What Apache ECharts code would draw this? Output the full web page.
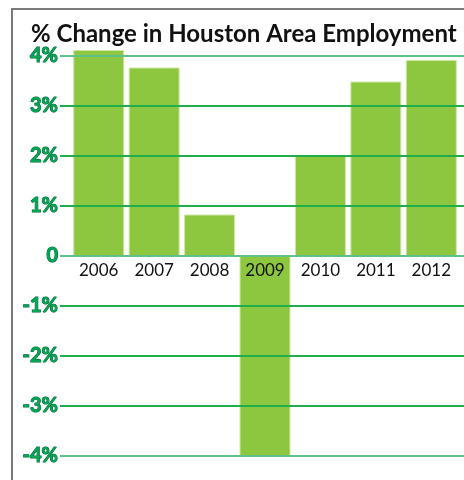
<!DOCTYPE html>
<html>
<head>
<meta charset="utf-8">
<script src="https://cdn.jsdelivr.net/npm/echarts@6/dist/echarts.min.js"></script>
<style>
  html, body { margin: 0; padding: 0; background: #fff; }
  #wrap { position: relative; width: 464px; height: 480px; }
  #chart { position: absolute; left: 0; top: 0; width: 464px; height: 480px; }
  #frame { position: absolute; left: 11px; top: 8px; width: 453px; height: 472px;
           border-left: 2px solid #7a7a7a; border-top: 2px solid #7a7a7a; pointer-events: none; box-sizing: border-box; }
</style>
</head>
<body>
<div id="wrap">
  <div id="chart"></div>
  <div id="frame"></div>
</div>
<script>
const titleText = '% Change in Houston Area Employment';
const years = ['2006', '2007', '2008', '2009', '2010', '2011', '2012'];
const changePct = [4.12, 3.77, 0.83, -4.0, 2.0, 3.49, 3.92];
const yTickLabels = ['-4%', '-3%', '-2%', '-1%', '0', '1%', '2%', '3%', '4%'];
const yMin = -4, yMax = 4, yStep = 1;

const light = '#5fc28b', dark = '#1fae4b';
const gridColors = yTickLabels.map(function (t, i) {
  return (t === '0' || i === 0 || i === yTickLabels.length - 1) ? light : dark;
});

// plot area height / span -> pixel offset of zero line above the bottom edge
const plotTop = 56, plotBottom = 24, chartH = 480;
const zeroOffset = (chartH - plotTop - plotBottom) * (0 - yMin) / (yMax - yMin);

const chart = echarts.init(document.getElementById('chart'), null, { renderer: 'canvas' });
chart.setOption({
  animation: false,
  title: {
    text: titleText, left: 26, top: 17,
    textStyle: { fontFamily: 'Lato', fontWeight: 'bold', fontSize: 24, color: '#111' }
  },
  grid: [
    { left: 60, right: 0, top: plotTop, bottom: plotBottom },
    { left: 71, right: 5, top: plotTop, bottom: plotBottom }
  ],
  xAxis: [
    { gridIndex: 0, type: 'value', min: 0, max: 1, show: false },
    {
      gridIndex: 1, type: 'category', data: years, z: 10, position: 'bottom',
      offset: -zeroOffset,
      axisLine: { show: true, onZero: false, lineStyle: { opacity: 0 } },
      axisTick: { show: false },
      axisLabel: { margin: 6, color: '#111', fontFamily: 'Lato', fontSize: 17 }
    }
  ],
  yAxis: [
    {
      gridIndex: 0, type: 'value', min: yMin, max: yMax, interval: yStep, z: 5,
      axisLine: { show: false }, axisTick: { show: false },
      splitLine: { show: true, lineStyle: { color: gridColors, width: 2 } },
      axisLabel: {
        margin: 2, color: '#00a651', fontFamily: 'Lato', fontWeight: 'bold', fontSize: 20,
        textBorderColor: '#00653a', textBorderWidth: 1, verticalAlign: 'middle',
        formatter: function (v, i) { return yTickLabels[i]; }
      }
    },
    {
      gridIndex: 1, type: 'value', min: yMin, max: yMax, interval: yStep, show: false
    }
  ],
  series: [
    {
      type: 'bar', xAxisIndex: 1, yAxisIndex: 1, data: changePct, z: 1, clip: false,
      barCategoryGap: '8%',
      itemStyle: { color: '#8dc63f', borderColor: '#cfe8a8', borderWidth: 1 }
    }
  ]
});
</script>
</body>
</html>
